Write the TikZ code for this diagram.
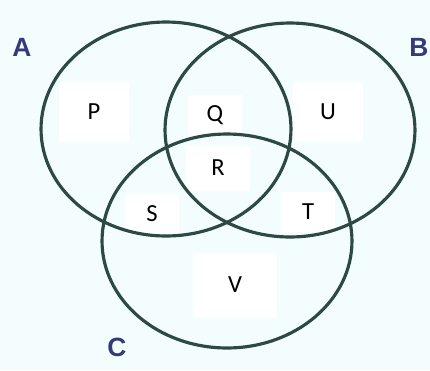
\documentclass[tikz,border=0pt]{standalone}
\usepackage{fontspec}
\setmainfont{Carlito}
\newfontfamily\setnamefont{Liberation Sans}
\usetikzlibrary{shapes.geometric}

\definecolor{paper}{RGB}{243,253,253}
\definecolor{ring}{RGB}{46,72,68}
\definecolor{setblue}{RGB}{52,58,122}

\tikzstyle{every node}=[inner sep=2.5pt]
\tikzstyle{region}=[fill=white, minimum width=1.1cm, minimum height=0.8cm, font={\fontsize{14}{14}\selectfont}]
\tikzstyle{wide region}=[region, minimum width=1.4cm, minimum height=1.2cm]
\tikzstyle{set}=[draw=ring, line width=1.8pt, ellipse, minimum width=5cm, minimum height=4.28cm]
\tikzstyle{setname}=[text=setblue, font={\setnamefont\bfseries\fontsize{15}{15}\selectfont}]

\begin{document}
\begin{tikzpicture}[x=0.02cm, y=-0.02cm]
    \fill [paper] (0,0) rectangle (430,370);
    \useasboundingbox (0,0) rectangle (430,370);

    % white patches behind the region letters
    \node [wide region] (p) at (94,112) {P};
    \node [region] (q) at (215,115) {Q};
    \node [wide region] (u) at (328,112) {U};
    \node [region, minimum width=1.3cm, minimum height=0.9cm] (r) at (218,168) {R};
    \node [region] (s) at (152,214) {S};
    \node [region] (t) at (308,212) {T};
    \node [region, minimum width=1.7cm, minimum height=1.3cm] (v) at (235,285) {V};

    % the three sets
    \node [set] (setA) at (166,129) {};
    \node [set] (setB) at (290,130) {};
    \node [set] (setC) at (227,241) {};

    \node [setname] (nameA) at (22,47) {A};
    \node [setname] (nameB) at (419,47) {B};
    \node [setname] (nameC) at (117,347) {C};
\end{tikzpicture}
\end{document}
